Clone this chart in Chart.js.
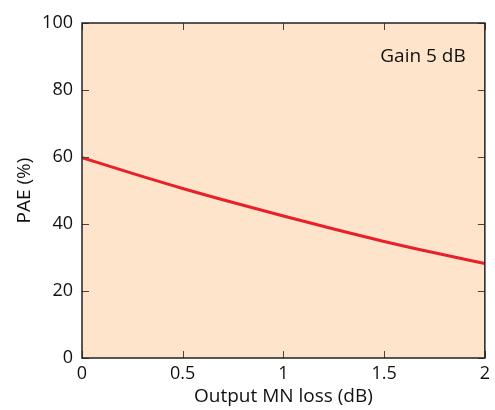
<!DOCTYPE html>
<html>
<head>
<meta charset="utf-8">
<script src="https://cdn.jsdelivr.net/npm/chart.js@4.4.0/dist/chart.umd.min.js"></script>
<style>
  html, body { margin: 0; padding: 0; background: #fff; }
  #wrap { width: 495px; height: 410px; }
</style>
</head>
<body>
<div id="wrap"><canvas id="paeChart" width="495" height="410"></canvas></div>
<script>
const lossValues = [0, 0.25, 0.5, 0.75, 1, 1.25, 1.5, 1.75, 2];
const paeValues = [59.8, 55.1, 50.6, 46.4, 42.4, 38.5, 34.8, 31.4, 28.2];
const xTicks = [0, 0.5, 1, 1.5, 2];
const yTicks = [0, 20, 40, 60, 80, 100];
const noteText = 'Gain 5 dB';

const FONT = "'Open Sans', sans-serif";
const plotBg = '#fee4ca';

// fill plot area, draw frame + inward ticks on all sides, and the note
const framePlugin = {
    id: 'frame',
    beforeDraw(chart) {
        const { ctx, chartArea: a } = chart;
        ctx.save();
        ctx.fillStyle = plotBg;
        ctx.fillRect(a.left, a.top, a.right - a.left, a.bottom - a.top);
        ctx.restore();
    },
    afterDraw(chart) {
        const { ctx, chartArea: a, scales } = chart;
        const len = 7;
        ctx.save();
        ctx.strokeStyle = '#444';
        ctx.lineWidth = 1;
        ctx.beginPath();
        xTicks.forEach(v => {
            const px = Math.round(scales.x.getPixelForValue(v)) + 0.5;
            ctx.moveTo(px, a.bottom); ctx.lineTo(px, a.bottom - len);
            ctx.moveTo(px, a.top); ctx.lineTo(px, a.top + len);
        });
        yTicks.forEach(v => {
            const py = Math.round(scales.y.getPixelForValue(v)) + 0.5;
            ctx.moveTo(a.left, py); ctx.lineTo(a.left + len, py);
            ctx.moveTo(a.right, py); ctx.lineTo(a.right - len, py);
        });
        ctx.stroke();
        ctx.strokeStyle = '#222';
        ctx.lineWidth = 1.5;
        ctx.strokeRect(a.left, a.top, a.right - a.left, a.bottom - a.top);

        ctx.fillStyle = '#111';
        ctx.font = '19px ' + FONT;
        ctx.textAlign = 'right';
        ctx.textBaseline = 'middle';
        ctx.fillText(noteText, scales.x.getPixelForValue(1.905), scales.y.getPixelForValue(90));
        ctx.restore();
    }
};

const ctx = document.getElementById('paeChart').getContext('2d');
const paeChart = new Chart(ctx, {
    type: 'line',
    data: {
        datasets: [{
            data: lossValues.map((x, i) => ({ x: x, y: paeValues[i] })),
            borderColor: '#e8202a',
            borderWidth: 3,
            pointRadius: 0,
            fill: false,
            cubicInterpolationMode: 'monotone'
        }]
    },
    options: {
        responsive: false,
        animation: false,
        layout: { padding: { top: 23, right: 8, left: 0, bottom: 0 } },
        plugins: { legend: { display: false }, tooltip: { enabled: false } },
        scales: {
            x: {
                type: 'linear',
                min: 0, max: 2,
                afterFit(scale) { scale.height = 52; },
                afterBuildTicks(scale) { scale.ticks = xTicks.map(v => ({ value: v })); },
                grid: { display: false, drawTicks: false },
                border: { display: false },
                ticks: { color: '#111', padding: 5, font: { family: FONT, size: 18 }, maxRotation: 0,
                         callback: v => String(v) },
                title: { display: true, text: 'Output MN loss (dB)', color: '#111',
                         font: { family: FONT, size: 19, lineHeight: 1.0 }, padding: { top: 0 } }
            },
            y: {
                min: 0, max: 100,
                afterFit(scale) { scale.width = 82; },
                afterBuildTicks(scale) { scale.ticks = yTicks.map(v => ({ value: v })); },
                grid: { display: false, drawTicks: false },
                border: { display: false },
                ticks: { color: '#111', padding: 9, font: { family: FONT, size: 18 } },
                title: { display: true, text: 'PAE (%)', color: '#111',
                         font: { family: FONT, size: 19 }, padding: { top: 13 } }
            }
        }
    },
    plugins: [framePlugin]
});
</script>
</body>
</html>
